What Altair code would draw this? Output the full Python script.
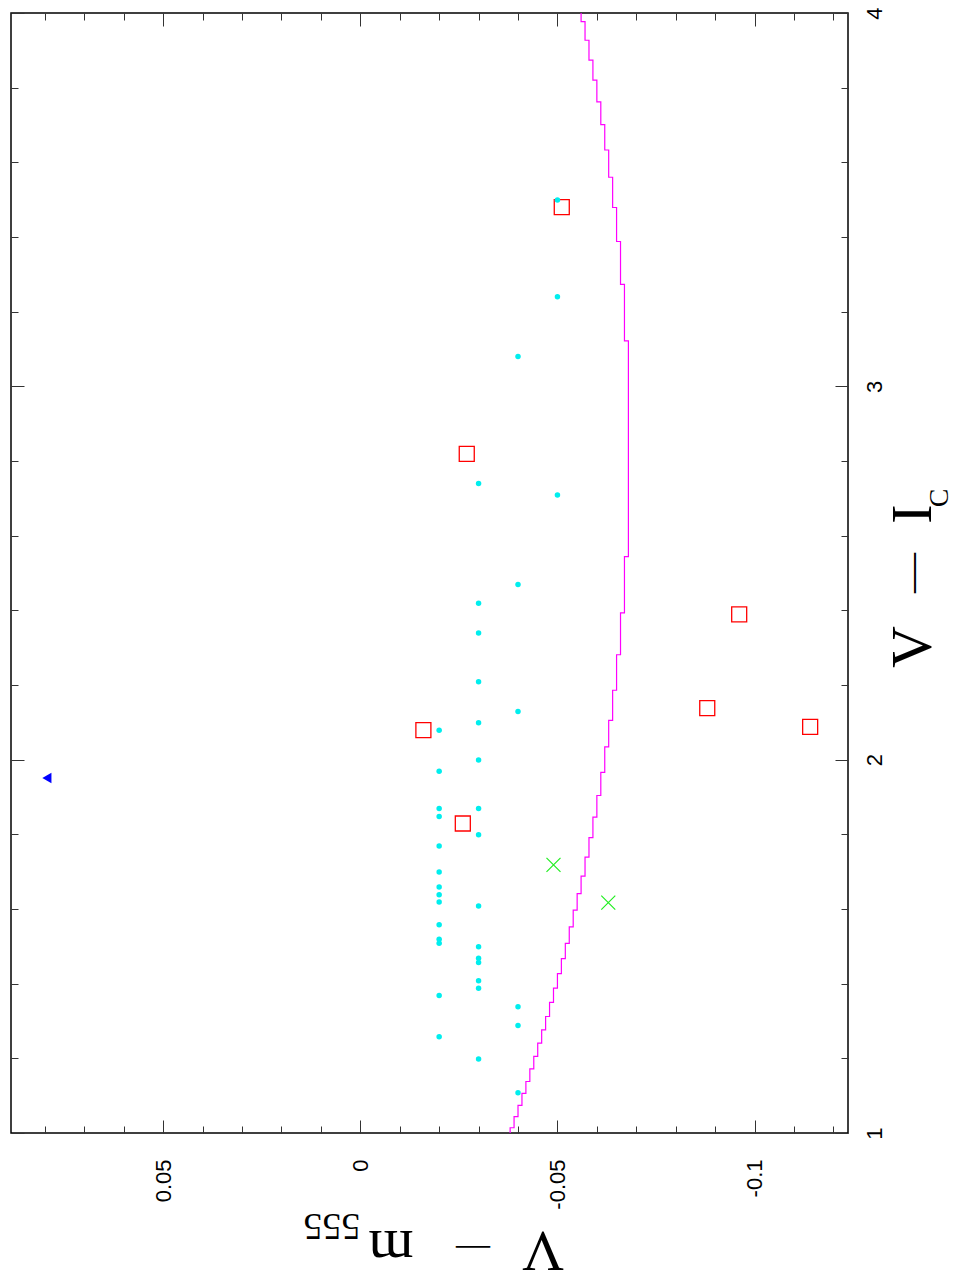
import altair as alt
import pandas as pd

# ---------------- data ----------------
# model curve: V-Ic break points and the V-m555 value held between them
line_breaks = [1.0, 1.014, 1.044, 1.074, 1.106, 1.138, 1.172, 1.205, 1.241, 1.276,
               1.312, 1.350, 1.388, 1.427, 1.467, 1.508, 1.552, 1.597, 1.641, 1.688,
               1.739, 1.791, 1.846, 1.904, 1.966, 2.034, 2.105, 2.186, 2.281, 2.393,
               2.544, 3.122, 3.273, 3.388, 3.479, 3.560, 3.633, 3.701, 3.762, 3.820,
               3.874, 3.927, 3.977, 4.0]
line_values = [-0.038, -0.039, -0.040, -0.041, -0.042, -0.043, -0.044, -0.045, -0.046,
               -0.047, -0.048, -0.049, -0.050, -0.051, -0.052, -0.053, -0.054, -0.055,
               -0.056, -0.057, -0.058, -0.059, -0.060, -0.061, -0.062, -0.063, -0.064,
               -0.065, -0.066, -0.067, -0.068, -0.067, -0.066, -0.065, -0.064, -0.063,
               -0.062, -0.061, -0.060, -0.059, -0.058, -0.057, -0.056]

# cyan dots
dot_vi = [3.499, 3.240, 3.080, 2.740, 2.709, 2.469, 2.419, 2.339, 2.209, 2.129,
          2.099, 2.079, 1.999, 1.969, 1.869, 1.869, 1.848, 1.799, 1.769, 1.699,
          1.659, 1.638, 1.619, 1.608, 1.558, 1.519, 1.508, 1.499, 1.468, 1.457,
          1.408, 1.388, 1.368, 1.338, 1.288, 1.258, 1.198, 1.108]
dot_vm = [-0.05, -0.05, -0.04, -0.03, -0.05, -0.04, -0.03, -0.03, -0.03, -0.04,
          -0.03, -0.02, -0.03, -0.02, -0.02, -0.03, -0.02, -0.03, -0.02, -0.02,
          -0.02, -0.02, -0.02, -0.03, -0.02, -0.02, -0.02, -0.03, -0.03, -0.03,
          -0.03, -0.03, -0.02, -0.04, -0.04, -0.02, -0.03, -0.04]

# red open squares
sq_vi = [3.480, 2.819, 2.079, 1.829, 2.389, 2.138, 2.088]
sq_vm = [-0.0511, -0.0270, -0.0160, -0.0260, -0.0961, -0.0880, -0.1141]

# green crosses
cr_vi = [1.718, 1.617]
cr_vm = [-0.0490, -0.0629]

# blue triangle
tri_vi = [1.951]
tri_vm = [0.0795]

# axis ticks
x_major = [0.05, 0.0, -0.05, -0.1]
x_minor = [0.08, 0.07, 0.06, 0.04, 0.03, 0.02, 0.01, -0.01, -0.02, -0.03, -0.04,
           -0.06, -0.07, -0.08, -0.09, -0.11, -0.12]
y_major = [1, 2, 3, 4]
y_minor = [1.2, 1.4, 1.6, 1.8, 2.2, 2.4, 2.6, 2.8, 3.2, 3.4, 3.6, 3.8]

X_DOMAIN = [-0.1237, 0.0886]
Y_DOMAIN = [1.0, 4.0]

# ---------------- tables ----------------
rows = []
k = 0
for i, v in enumerate(line_values):
    rows.append({"vi": line_breaks[i], "vm": v, "k": k}); k += 1
    rows.append({"vi": line_breaks[i + 1], "vm": v, "k": k}); k += 1
line_df = pd.DataFrame(rows)
dot_df = pd.DataFrame({"vi": dot_vi, "vm": dot_vm})
sq_df = pd.DataFrame({"vi": sq_vi, "vm": sq_vm})
cr_df = pd.DataFrame({"vi": cr_vi, "vm": cr_vm})
tri_df = pd.DataFrame({"vi": tri_vi, "vm": tri_vm})

xs = alt.Scale(domain=X_DOMAIN, reverse=True, nice=False, zero=False)
ys = alt.Scale(domain=Y_DOMAIN, nice=False, zero=False)

LABEL_FONT = "Liberation Sans"
TITLE_FONT = "Liberation Serif"
TICK_COLOR = "#333333"


def make_axis(orient, values, size, labels):
    kw = dict(orient=orient, values=values, tickSize=size, offset=-size,
              domain=False, grid=False, title=None, ticks=True,
              tickColor=TICK_COLOR, tickWidth=1, labels=labels)
    if labels:
        kw.update(labelFont=LABEL_FONT, labelFontSize=22, labelColor="black",
                  labelFlush=False, labelOverlap=False, labelAngle=270)
        if orient == "bottom":
            kw.update(format="~g", labelExpr="replace(datum.label, '\u2212', '-')",
                      labelAlign="right", labelBaseline="middle", labelPadding=26)
        else:
            kw.update(format="d", labelAlign="center", labelBaseline="top",
                      labelPadding=16)
    return alt.Axis(**kw)


def enc(xaxis, yaxis):
    return dict(x=alt.X("vm:Q", scale=xs, axis=xaxis),
                y=alt.Y("vi:Q", scale=ys, axis=yaxis))


line = alt.Chart(line_df).mark_line(color="#ff00ff", strokeWidth=1.2).encode(
    order="k:Q",
    **enc(make_axis("bottom", x_major, 13, True), make_axis("right", y_major, 13, True)))

squares = alt.Chart(sq_df).mark_point(shape="square", filled=False, color="#ff0000",
                                      size=225, strokeWidth=1.3, opacity=1).encode(
    **enc(make_axis("top", x_major, 13, False), make_axis("left", y_major, 13, False)))

crosses = alt.Chart(cr_df).mark_point(shape="M-1,-1L1,1M-1,1L1,-1", filled=False,
                                      color="#22ee22", size=196, strokeWidth=1.2,
                                      opacity=1).encode(
    **enc(make_axis("top", x_minor, 7, False), make_axis("left", y_minor, 7, False)))

dots = alt.Chart(dot_df).mark_circle(color="#00eeee", size=30, opacity=1).encode(
    **enc(make_axis("bottom", x_minor, 7, False), make_axis("right", y_minor, 7, False)))

tri = alt.Chart(tri_df).mark_point(shape="triangle-left", filled=True, color="#0000ff",
                                   size=110, opacity=1).encode(
    x=alt.X("vm:Q", scale=xs, axis=None), y=alt.Y("vi:Q", scale=ys, axis=None))


def label(text, px, py, size, angle):
    return alt.Chart(alt.Data(values=[{"a": 1}])).mark_text(
        text=text, font=TITLE_FONT, fontSize=size, angle=angle, align="center",
        baseline="alphabetic", color="black").encode(x=alt.value(px), y=alt.value(py))


titles = [
    # right title  V - I_C  (reads bottom to top)
    label("V", 920, 634, 58, 270),
    label("\u2014", 913, 560, 40, 270),
    label("I", 920, 501, 58, 270),
    label("C", 937, 485, 28, 270),
    # bottom title  V - m_555  (upside down)
    label("V", 532, 1219, 58, 180),
    label("\u2014", 462, 1226, 34, 180),
    label("m", 380, 1218, 58, 180),
    label("555", 321, 1201, 38, 180),
]

chart = alt.layer(line, squares, crosses, dots, tri, *titles).resolve_axis(
    x="independent", y="independent"
).properties(
    width=837, height=1120,
    autosize=alt.AutoSizeParams(type="none"),
    padding={"left": 3, "top": 5, "right": 101, "bottom": 138},
).configure_view(stroke="black", strokeWidth=1.5)

chart.save("out.html", embed_options={"renderer": "svg", "actions": False})
